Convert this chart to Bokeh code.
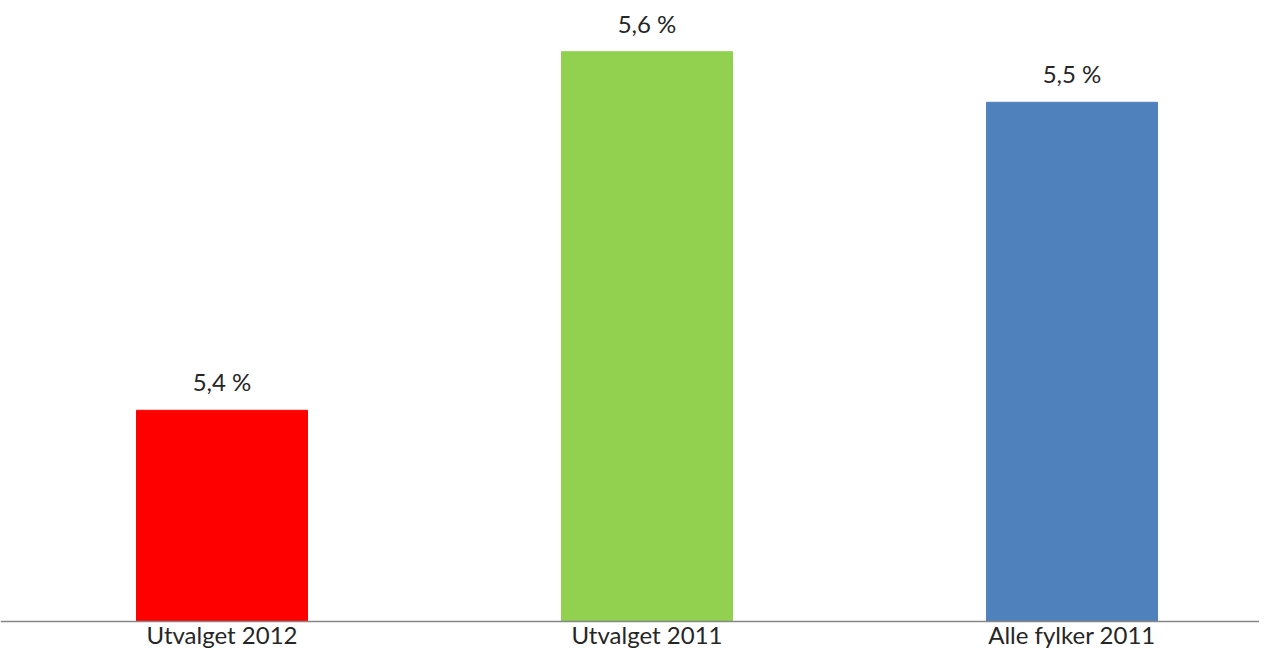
from bokeh.plotting import figure
from bokeh.models import Range1d, FixedTicker, ColumnDataSource, LabelSet
from bokeh.core.properties import value
from bokeh.embed import file_html
from bokeh.resources import INLINE

categories = ["Utvalget 2012", "Utvalget 2011", "Alle fylker 2011"]
values = [5.396, 5.559, 5.536]
colors = ["#FF0000", "#92D050", "#4F81BD"]

labels = [f"{v:.1f}".replace(".", ",") + " %" for v in values]
xs = list(range(len(categories)))
base = 5.3

src = ColumnDataSource(dict(x=xs, top=values, color=colors, label=labels))

FONT = "Lato"
TXT = "#262626"

p = figure(width=1259, height=652, output_backend="svg", toolbar_location=None,
           x_range=Range1d(-0.5212, 2.4412), y_range=Range1d(5.28591, 5.58227),
           min_border_left=0, min_border_right=0, min_border_top=0, min_border_bottom=0)
p.vbar(x="x", top="top", bottom=base, width=0.4024, color="color", source=src)

p.add_layout(LabelSet(x="x", y="top", text="label", source=src, text_align="center",
                      text_baseline="alphabetic", y_offset=19, text_font=value(FONT),
                      text_font_size="24px", text_color=TXT))

p.yaxis.visible = False
p.xgrid.visible = False
p.ygrid.visible = False
p.outline_line_color = None
p.background_fill_color = "white"
p.border_fill_color = "white"

ax = p.xaxis[0]
ax.fixed_location = base
ax.ticker = FixedTicker(ticks=xs)
ax.major_label_overrides = {i: c for i, c in zip(xs, categories)}
ax.major_label_text_font = FONT
ax.major_label_text_font_size = "24px"
ax.major_label_text_color = TXT
ax.major_label_standoff = -8
ax.major_tick_line_color = None
ax.minor_tick_line_color = None
ax.axis_line_color = "#868686"
ax.axis_line_width = 1.5

open("out.html", "w").write(file_html(p, INLINE))
